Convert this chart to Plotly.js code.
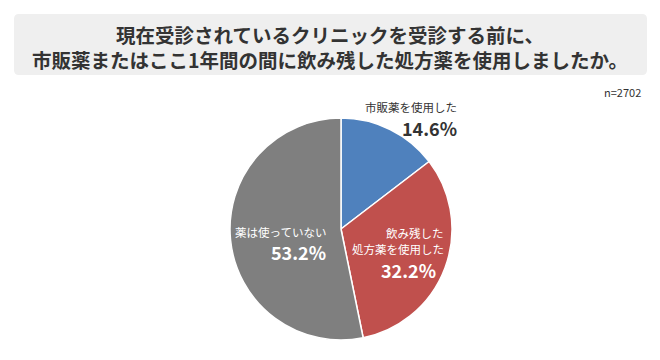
<!DOCTYPE html>
<html>
<head>
<meta charset="utf-8">
<script src="https://cdn.plot.ly/plotly-3.0.1.min.js"></script>
<style>html,body{margin:0;padding:0;background:#fff;}#chart{width:660px;height:360px;}</style>
</head>
<body>
<div id="chart"></div>
<script>
const categories = ["市販薬を使用した", "飲み残した処方薬を使用した", "薬は使っていない"];
const labelLines = [["市販薬を使用した"], ["飲み残した", "処方薬を使用した"], ["薬は使っていない"]];
const values = [14.6, 32.2, 53.2];
const sliceColors = ["#4f81bd", "#c0504d", "#7f7f7f"];
const sampleNote = "n=2702";
const titleText = "現在受診されているクリニックを受診する前に、<br>市販薬またはここ1年間の間に飲み残した処方薬を使用しましたか。";

const W = 660, H = 360;
const px = x => x / W;
const py = y => 1 - y / H;
const FONT = "'Noto Sans CJK JP', 'Noto Sans', sans-serif";

// label placement (pixel positions of right edges / line centres)
const labelPos = [
  {x: 459, pctX: 459, nameY: [107], pctY: 128, color: "#333333"},
  {x: 446, pctX: 438, nameY: [233, 249], pctY: 270, color: "#ffffff"},
  {x: 328, pctX: 328, nameY: [232], pctY: 252, color: "#ffffff"}
];

const annotations = [];
categories.forEach((c, i) => {
  const p = labelPos[i];
  labelLines[i].forEach((ln, j) => {
    annotations.push({xref: "paper", yref: "paper", x: px(p.x), y: py(p.nameY[j]),
      xanchor: "right", yanchor: "middle", showarrow: false, text: ln,
      font: {family: FONT, size: 11.5, color: p.color}});
  });
  annotations.push({xref: "paper", yref: "paper", x: px(p.pctX), y: py(p.pctY),
    xanchor: "right", yanchor: "middle", showarrow: false,
    text: "<b>" + values[i].toFixed(1) + "%</b>",
    font: {family: FONT, size: 18, color: p.color}});
});
annotations.push({xref: "paper", yref: "paper", x: px(643), y: py(92),
  xanchor: "right", yanchor: "middle", showarrow: false, text: sampleNote,
  font: {family: FONT, size: 11, color: "#333333"}});

// rounded title box
const x0 = px(14), x1 = px(647), y0 = py(75), y1 = py(14);
const rx = 5 / W, ry = 5 / H;
const boxPath = `M ${x0+rx},${y1} L ${x1-rx},${y1} Q ${x1},${y1} ${x1},${y1-ry} L ${x1},${y0+ry} Q ${x1},${y0} ${x1-rx},${y0} L ${x0+rx},${y0} Q ${x0},${y0} ${x0},${y0+ry} L ${x0},${y1-ry} Q ${x0},${y1} ${x0+rx},${y1} Z`;

const data = [{
  type: "pie",
  labels: categories,
  values: values,
  sort: false,
  direction: "clockwise",
  rotation: 0,
  marker: {colors: sliceColors, line: {color: "#ffffff", width: 1.5}},
  textinfo: "none",
  hoverinfo: "label+percent",
  showlegend: false,
  domain: {x: [px(230), px(452)], y: [py(340), py(118)]}
}];

const layout = {
  width: W, height: H,
  margin: {l: 0, r: 0, t: 0, b: 0},
  paper_bgcolor: "#ffffff",
  title: {text: "<b>" + titleText + "</b>", x: 0.5, xanchor: "center", y: py(43), yanchor: "middle",
    font: {family: FONT, size: 19.5, color: "#333333"}},
  shapes: [{type: "path", xref: "paper", yref: "paper", path: boxPath,
    fillcolor: "#efefef", line: {width: 0}, layer: "below"}],
  annotations: annotations
};

Plotly.newPlot("chart", data, layout, {displayModeBar: false, staticPlot: true});
</script>
</body>
</html>
